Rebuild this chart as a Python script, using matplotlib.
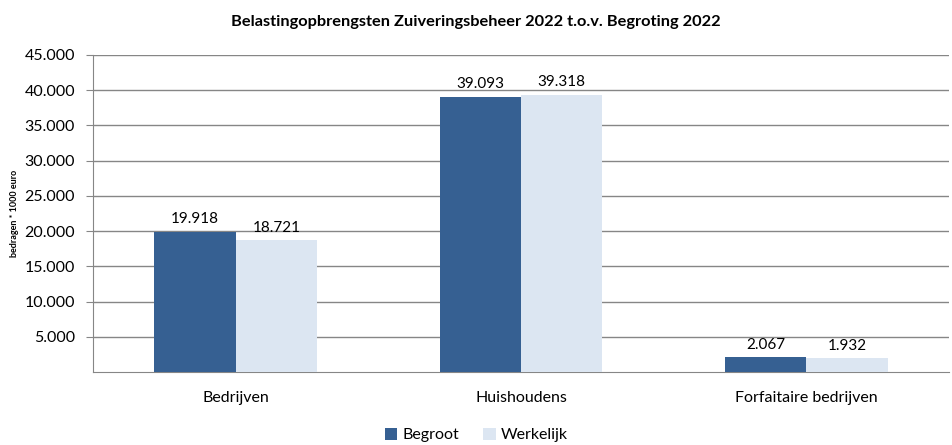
import matplotlib.pyplot as plt
import numpy as np
from matplotlib.ticker import FuncFormatter

categorieen = ['Bedrijven', 'Huishoudens', 'Forfaitaire bedrijven']
begroot = [19918, 39093, 2067]
werkelijk = [18721, 39318, 1932]

plt.rcParams['font.family'] = ['Lato', 'DejaVu Sans']

fig = plt.figure(figsize=(9.52, 4.45), dpi=100)
ax = fig.add_axes([93 / 952, 1 - 372 / 445, (949 - 93) / 952, (372 - 55) / 445])

x = np.arange(len(categorieen))
w = 0.285
b1 = ax.bar(x - w / 2, begroot, w, color='#366092', label='Begroot', zorder=3)
b2 = ax.bar(x + w / 2, werkelijk, w, color='#DCE6F2', label='Werkelijk', zorder=3)

for bars in (b1, b2):
    for r in bars:
        ax.annotate(f'{int(r.get_height()):,}'.replace(',', '.'),
                    (r.get_x() + r.get_width() / 2, r.get_height()),
                    xytext=(0, 4), textcoords='offset points',
                    ha='center', va='bottom', fontsize=11)

ax.set_xlim(-0.5, 2.5)
ax.set_ylim(0, 45000)
ax.set_yticks(np.arange(5000, 45001, 5000))
ax.yaxis.set_major_formatter(FuncFormatter(lambda v, p: f'{int(v):,}'.replace(',', '.')))
ax.grid(axis='y', color='#868686', linewidth=1, zorder=0)
ax.set_xticks(x)
ax.set_xticklabels(categorieen)
ax.tick_params(axis='x', length=0, pad=14, labelsize=11.5)
ax.tick_params(axis='y', length=5, color='#868686', labelsize=11.5, pad=8)

for s in ['top', 'right']:
    ax.spines[s].set_visible(False)
ax.spines['left'].set_color('#868686')
ax.spines['bottom'].set_color('#868686')

ax.set_ylabel('bedragen * 1000 euro', fontsize=6.5, fontweight='bold', labelpad=4)
fig.text(0.5, 1 - 22 / 445, 'Belastingopbrengsten Zuiveringsbeheer 2022 t.o.v. Begroting 2022',
         ha='center', va='center', fontsize=11.8, fontweight='bold')

fig.legend(loc='center', bbox_to_anchor=(0.5, 1 - 435 / 445), ncol=2, frameon=False,
           fontsize=11.5, handlelength=0.8, handleheight=0.8, columnspacing=1.5, handletextpad=0.3)

fig.savefig('out.png', dpi=100)
